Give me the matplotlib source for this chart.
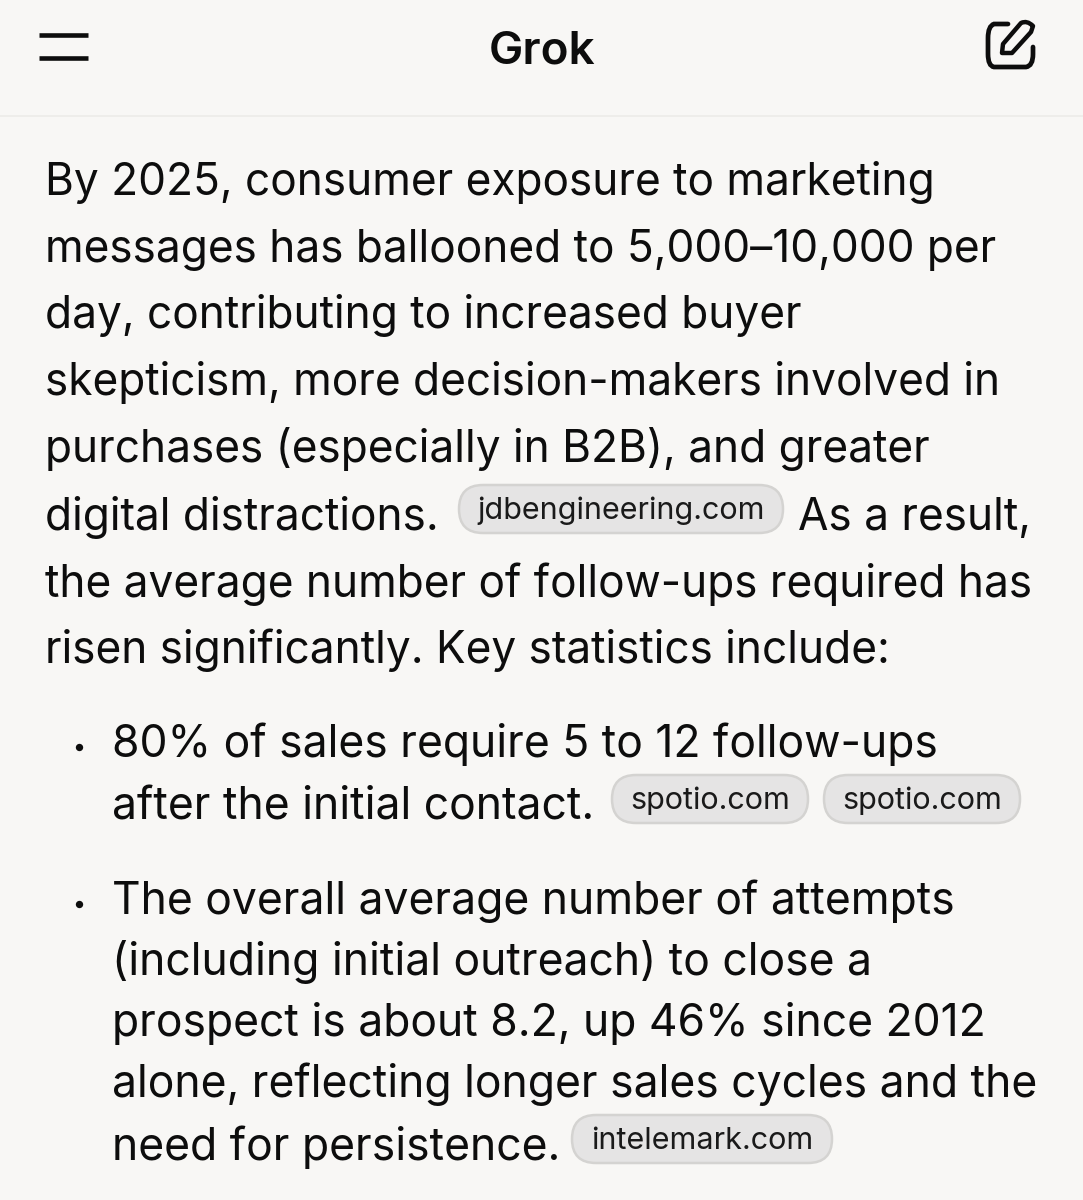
import matplotlib
matplotlib.use('Agg')
import matplotlib.pyplot as plt
from matplotlib.patches import FancyBboxPatch, PathPatch
from matplotlib.path import Path

W, H = 1083, 1200
BG = '#f8f7f5'
INK = '#0d0d0d'

plt.rcParams['font.family'] = ['Inter', 'DejaVu Sans']

title = 'Grok'

# text, x of left edge, y of baseline (pixels from top)
para_lines = [
  ('By 2025, consumer exposure to marketing', 45, 195),
  ('messages has ballooned to 5,000–10,000 per', 45, 262),
  ('day, contributing to increased buyer', 45, 328),
  ('skepticism, more decision-makers involved in', 45, 395),
  ('purchases (especially in B2B), and greater', 45, 462),
  ('digital distractions.', 45, 530),
  ('As a result,', 798, 530),
  ('the average number of follow-ups required has', 45, 597),
  ('risen significantly. Key statistics include:', 45, 663),
]
bullet1_lines = [
  ('80% of sales require 5 to 12 follow-ups', 112, 757),
  ('after the initial contact.', 112, 820),
]
bullet2_lines = [
  ('The overall average number of attempts', 112, 914),
  ('(including initial outreach) to close a', 112, 975),
  ('prospect is about 8.2, up 46% since 2012', 112, 1036),
  ('alone, reflecting longer sales cycles and the', 112, 1097),
  ('need for persistence.', 112, 1160),
]
bullets_y = [747, 904]

# label, left, right, top, bottom
chips = [
  ('jdbengineering.com', 458, 784, 484, 534),
  ('spotio.com', 611, 809, 774, 824),
  ('spotio.com', 823, 1021, 774, 824),
  ('intelemark.com', 571, 833, 1114, 1164),
]

fig = plt.figure(figsize=(W / 100, H / 100), dpi=100, facecolor=BG)
ax = fig.add_axes([0, 0, 1, 1])
ax.set_xlim(0, W)
ax.set_ylim(H, 0)
ax.axis('off')

# header
ax.plot([0, W], [115.5, 115.5], color='#ecebe8', lw=1.2)
ax.plot([39, 88], [35, 35], color=INK, lw=3.3, solid_capstyle='butt')
ax.plot([39, 88], [58, 58], color=INK, lw=3.3, solid_capstyle='butt')
ax.text(W / 2 + 1, 63, title, fontsize=33, fontweight='semibold', color=INK, ha='center', va='baseline')

# edit icon: open rounded square and a pencil
box = Path([(1008, 24), (994, 24), (988, 26), (988, 38), (988, 54), (988, 66), (994, 67),
            (1010, 67), (1026, 67), (1033, 66), (1033, 54), (1033, 47)],
           [Path.MOVETO, Path.LINETO, Path.CURVE3, Path.CURVE3, Path.LINETO, Path.CURVE3, Path.CURVE3,
            Path.LINETO, Path.LINETO, Path.CURVE3, Path.CURVE3, Path.LINETO])
ax.add_patch(PathPatch(box, fill=False, ec=INK, lw=3.4, capstyle='round'))
pencil = Path([(1002, 53), (1003, 44), (1021, 23), (1027, 20), (1033, 26), (1031, 32), (1012, 53), (1002, 53)],
              [Path.MOVETO, Path.LINETO, Path.LINETO, Path.CURVE3, Path.CURVE3, Path.LINETO, Path.LINETO, Path.CLOSEPOLY])
ax.add_patch(PathPatch(pencil, fill=False, ec=INK, lw=3.2, joinstyle='round'))

# body text
for text, x, y in para_lines:
  ax.text(x, y, text, fontsize=31.8, color=INK, ha='left', va='baseline')
for text, x, y in bullet1_lines + bullet2_lines:
  ax.text(x, y, text, fontsize=32, color=INK, ha='left', va='baseline')
ax.scatter([79] * len(bullets_y), bullets_y, s=28, color=INK, linewidths=0)

# source chips
for label, left, right, top, bottom in chips:
  r = (bottom - top) / 2
  ax.add_patch(FancyBboxPatch((left + r, top + r), right - left - 2 * r, 0,
                              boxstyle=f'round,pad={r - 1},rounding_size={r - 1}',
                              fc='#e5e4e4', ec='#d4d3d1', lw=1.8))
  ax.text((left + right) / 2, (top + bottom) / 2 + 10, label, fontsize=22, color='#1a1a1a', ha='center', va='baseline')

fig.savefig('out.png', dpi=100, facecolor=BG)
